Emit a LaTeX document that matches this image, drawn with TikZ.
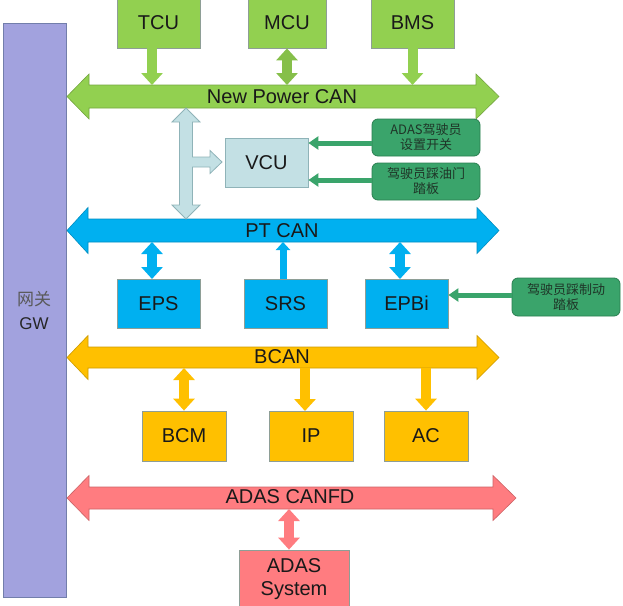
\documentclass[tikz,border=0pt]{standalone}
\usepackage{fontspec}
\setmainfont{Liberation Sans}
\newfontfamily\cjk{Noto Sans CJK SC}
\usetikzlibrary{arrows.meta}
\definecolor{pgreen}{HTML}{92D050}
\definecolor{dgreen}{HTML}{3AA46B}
\definecolor{dgreenline}{HTML}{2A7F50}
\definecolor{pblue}{HTML}{00B0F0}
\definecolor{pyellow}{HTML}{FFC000}
\definecolor{ppink}{HTML}{FF7C80}
\definecolor{gwfill}{HTML}{A2A2DE}
\definecolor{vcufill}{HTML}{C3E0E4}
\definecolor{vculine}{HTML}{8FB3B8}
\definecolor{boxline}{HTML}{8E9E96}
\definecolor{smalltext}{HTML}{1F3628}
\tikzset{
  ecu/.style={draw=boxline, line width=0.8pt, inner sep=0pt, font=\fontsize{20}{22}\selectfont, text=black!90},
  drv/.style={draw=dgreenline, fill=dgreen, rounded corners=6pt, line width=0.8pt, align=center,
    font=\cjk\fontsize{13}{15}\selectfont, text=smalltext, inner sep=0pt},
  buslabel/.style={font=\fontsize{20}{22}\selectfont, text=black!90, inner sep=0pt},
  busshape/.style={line width=0.6pt},
  blk/.style={line width=10pt, >={Triangle[width=21pt,length=12pt]}},
  thin arrow/.style={draw=dgreen, line width=5pt, -{Triangle[width=13pt,length=10pt]}},
}
\newcommand{\busline}[8]{% #1 color, #2 xleft tip, #3 xleft base, #4 xright base, #5 xright tip, #6 yc, #7 shaft half, #8 head half
  \filldraw[busshape, fill=#1, draw=#1!80!black]
    (#2,#6) -- (#3,#6-#8) -- (#3,#6-#7) -- (#4,#6-#7) -- (#4,#6-#8) -- (#5,#6)
    -- (#4,#6+#8) -- (#4,#6+#7) -- (#3,#6+#7) -- (#3,#6+#8) -- cycle;}
\begin{document}
\begin{tikzpicture}[x=1pt,y=-1pt]
\useasboundingbox[fill=white] (0,0) rectangle (623,605);

% gateway bar
\filldraw[fill=gwfill, draw=boxline!80!blue, line width=0.8pt] (3,23) rectangle (66,597);
\node[align=center, inner sep=0pt, font=\fontsize{17}{24}\selectfont] (gw) at (34,310)
  {{\cjk\color{black!65}网关}\\{\color{black!85}GW}};

% buses
\busline{pgreen}{67}{89}{476}{499}{96.5}{11.5}{22.5}
\node[buslabel] (npc) at (282,96.5) {New Power CAN};
\coordinate (npcT) at (283,85);
\coordinate (npcB) at (283,108);

\busline{pblue}{67}{88}{477}{499}{230.5}{11.5}{23}
\node[buslabel] (pt) at (282,230.5) {PT CAN};
\coordinate (ptT) at (283,219);
\coordinate (ptB) at (283,242);

\busline{pyellow}{67}{88}{477}{499}{357.5}{10.5}{22}
\node[buslabel] (bcan) at (282,357) {BCAN};
\coordinate (bcB) at (283,368);

\busline{ppink}{67}{89}{493}{516}{498}{11}{22.5}
\node[buslabel] (adascan) at (290,497) {ADAS CANFD};
\coordinate (adB) at (289,509);

% top ECUs
\node[ecu, fill=pgreen, minimum width=83pt, minimum height=50pt] (tcu) at (158.5,23) {TCU};
\node[ecu, fill=pgreen, minimum width=78pt, minimum height=50pt] (mcu) at (287,23) {MCU};
\node[ecu, fill=pgreen, minimum width=83pt, minimum height=50pt] (bms) at (412.5,23) {BMS};
\coordinate (tcuA) at (152,48);
\draw[blk, draw=pgreen, ->] (tcuA) -- (tcuA |- npcT);
\draw[blk, draw=pgreen!92!black, <->] (mcu.south) -- (mcu.south |- npcT);
\draw[blk, draw=pgreen, ->] (bms.south) -- (bms.south |- npcT);

% VCU and its light-blue connector
\node[ecu, fill=vcufill, draw=vculine, minimum width=83pt, minimum height=49pt] (vcu) at (266.5,162.5) {VCU};
\filldraw[fill=vcufill, draw=vculine, line width=0.8pt]
  (186,108) -- (200,122) -- (192.5,122) -- (192.5,157) -- (210,157) -- (210,150.5) -- (222,162)
  -- (210,173.5) -- (210,167) -- (192.5,167) -- (192.5,205) -- (200,205) -- (186,219)
  -- (172,205) -- (179.5,205) -- (179.5,122) -- (172,122) -- cycle;

\node[drv, minimum width=108pt, minimum height=37pt] (adsw) at (426,137.5) {ADAS驾驶员\\设置开关};
\node[drv, minimum width=108pt, minimum height=37pt] (acc) at (426,181.5) {驾驶员踩油门\\踏板};
\coordinate (adswA) at (372,143);
\coordinate (accA) at (372,180);
\draw[thin arrow] (adswA) -- (adswA -| vcu.east);
\draw[thin arrow] (accA) -- (accA -| vcu.east);

% PT CAN ECUs
\node[ecu, fill=pblue, minimum width=83pt, minimum height=49pt] (eps) at (158.5,303.5) {EPS};
\node[ecu, fill=pblue, minimum width=83pt, minimum height=49pt] (srs) at (285.5,303.5) {SRS};
\node[ecu, fill=pblue, minimum width=83pt, minimum height=49pt] (epbi) at (406.5,303.5) {EPBi};
\coordinate (epsA) at (152,279);
\coordinate (srsA) at (283,279);
\coordinate (epbA) at (400,279);
\draw[blk, draw=pblue, <->] (epsA) -- (epsA |- ptB);
\draw[line width=7pt, draw=pblue, -{Triangle[width=14pt,length=8pt]}] (srsA) -- (srsA |- ptB);
\draw[blk, draw=pblue, <->] (epbA) -- (epbA |- ptB);

\node[drv, minimum width=108pt, minimum height=38pt] (brake) at (566,297) {驾驶员踩制动\\踏板};
\coordinate (brA) at (512,295);
\draw[thin arrow] (brA) -- (brA -| epbi.east);

% BCAN ECUs
\node[ecu, fill=pyellow, minimum width=84pt, minimum height=50pt] (bcm) at (184,436) {BCM};
\node[ecu, fill=pyellow, minimum width=84pt, minimum height=50pt] (ip) at (311,436) {IP};
\node[ecu, fill=pyellow, minimum width=84pt, minimum height=50pt] (ac) at (426,436) {AC};
\draw[blk, draw=pyellow, <->] (bcm.north) -- (bcm.north |- bcB);
\coordinate (ipA) at (305,411);
\draw[blk, draw=pyellow, ->] (ipA |- bcB) -- (ipA);
\draw[blk, draw=pyellow, ->] (ac.north |- bcB) -- (ac.north);

% ADAS system
\node[ecu, fill=ppink, minimum width=110pt, minimum height=58pt, align=center,
  font=\fontsize{20}{23}\selectfont] (adsys) at (294,579) {ADAS\\System};
\draw[blk, draw=ppink, <->] (adsys.north -| adB) -- (adB);
\end{tikzpicture}
\end{document}
